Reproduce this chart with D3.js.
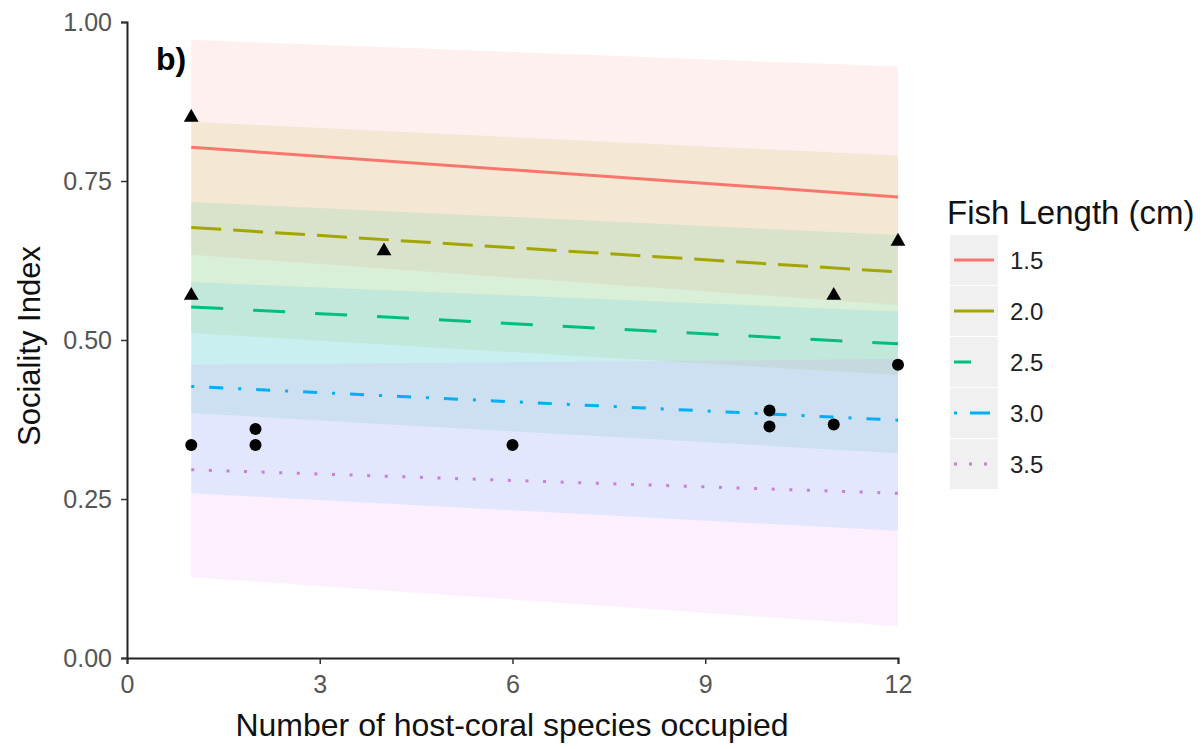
<!DOCTYPE html>
<html>
<head>
<meta charset="utf-8">
<script src="https://cdn.jsdelivr.net/npm/d3@7"></script>
<style>
  body { margin: 0; background: #fff; }
  text { font-family: "Liberation Sans", Arial, sans-serif; }
</style>
</head>
<body>
<svg id="chart" width="1202" height="749"></svg>
<script>
// fish length groups, fitted line and 95% band at x = 1 and x = 12
const lengths = ['1.5', '2.0', '2.5', '3.0', '3.5'];
const fitX = [1, 12];
const fitY = {
    '1.5': [0.803, 0.725],
    '2.0': [0.677, 0.607],
    '2.5': [0.552, 0.494],
    '3.0': [0.427, 0.374],
    '3.5': [0.296, 0.259]
};
const lowY = {
    '1.5': [0.634, 0.555],
    '2.0': [0.511, 0.445],
    '2.5': [0.385, 0.322],
    '3.0': [0.259, 0.200],
    '3.5': [0.127, 0.050]
};
const highY = {
    '1.5': [0.972, 0.930],
    '2.0': [0.843, 0.790],
    '2.5': [0.717, 0.665],
    '3.0': [0.591, 0.545],
    '3.5': [0.461, 0.470]
};

// observed points
const triangles = [[1, 0.85], [1, 0.57], [4, 0.64], [11, 0.57], [12, 0.655]];
const circles = [[1, 0.335], [2, 0.36], [2, 0.335], [6, 0.335], [10, 0.389], [10, 0.364], [11, 0.367], [12, 0.461]];

const xTicks = [0, 3, 6, 9, 12];
const yTicks = [0, 0.25, 0.5, 0.75, 1];

const colors = { '1.5': '#F8766D', '2.0': '#A3A500', '2.5': '#00BF7D', '3.0': '#00B0F6', '3.5': '#C97FD8' };
const fills = { '1.5': '#F8766D', '2.0': '#A3A500', '2.5': '#00BF7D', '3.0': '#00B0F6', '3.5': '#E76BF3' };
const dashes = { '1.5': null, '2.0': '30,12', '2.5': '32,30', '3.0': '3,15,14,15', '3.5': '3,14.6' };
const keyDashes = { '1.5': null, '2.0': null, '2.5': '17,40', '3.0': '3,13,20,40', '3.5': '3,12' };

const svg = d3.select('#chart');

const x = d3.scaleLinear().domain([0, 12]).range([127, 898]);
const y = d3.scaleLinear().domain([0, 1]).range([658, 22]);

// ribbons
const area = d3.area()
    .x((d) => x(d[0]))
    .y0((d) => y(d[1]))
    .y1((d) => y(d[2]));

const ribbons = svg.append('g');
lengths.forEach((len) => {
    const pts = fitX.map((v, i) => [v, lowY[len][i], highY[len][i]]);
    ribbons.append('path')
        .attr('d', area(pts))
        .attr('fill', fills[len])
        .attr('fill-opacity', 0.11);
});

// fitted lines
const line = d3.line().x((d) => x(d[0])).y((d) => y(d[1]));
const lines = svg.append('g');
lengths.forEach((len) => {
    const pts = fitX.map((v, i) => [v, fitY[len][i]]);
    lines.append('path')
        .attr('d', line(pts))
        .attr('fill', 'none')
        .attr('stroke', colors[len])
        .attr('stroke-width', 3)
        .attr('stroke-dasharray', dashes[len]);
});

// points
svg.append('g').selectAll('circle').data(circles).enter().append('circle')
    .attr('cx', (d) => x(d[0]))
    .attr('cy', (d) => y(d[1]))
    .attr('r', 6)
    .attr('fill', '#000');

const tri = d3.symbol().type(d3.symbolTriangle).size(95);
svg.append('g').selectAll('path').data(triangles).enter().append('path')
    .attr('d', tri)
    .attr('transform', (d) => `translate(${x(d[0])},${y(d[1])})`)
    .attr('fill', '#000');

// axes
const xAxis = svg.append('g')
    .attr('transform', 'translate(0,658)')
    .call(d3.axisBottom(x).tickValues(xTicks).tickSize(6).tickPadding(11).tickFormat(d3.format('d')));
const yAxis = svg.append('g')
    .attr('transform', 'translate(127,0)')
    .call(d3.axisLeft(y).tickValues(yTicks).tickSize(6).tickPadding(9).tickFormat(d3.format('.2f')));

[xAxis, yAxis].forEach((ax) => {
    ax.select('.domain').attr('stroke', '#222').attr('stroke-width', 2);
    ax.selectAll('.tick line').attr('stroke', '#333').attr('stroke-width', 1.5);
    ax.selectAll('.tick text')
        .attr('fill', '#555')
        .style('font-size', '25px')
        .style('font-family', '"Liberation Sans", Arial, sans-serif');
});

// titles
svg.append('text')
    .attr('x', 512).attr('y', 736)
    .attr('text-anchor', 'middle')
    .attr('fill', '#111')
    .style('font-size', '32px')
    .text('Number of host-coral species occupied');

svg.append('text')
    .attr('transform', 'translate(40,346) rotate(-90)')
    .attr('text-anchor', 'middle')
    .attr('fill', '#111')
    .style('font-size', '31px')
    .text('Sociality Index');

svg.append('text')
    .attr('x', 156).attr('y', 70)
    .attr('fill', '#000')
    .style('font-size', '32px')
    .style('font-weight', 'bold')
    .text('b)');

// legend
const legend = svg.append('g').attr('transform', 'translate(947,0)');
legend.append('text')
    .attr('x', 0).attr('y', 224)
    .attr('fill', '#111')
    .style('font-size', '33px')
    .text('Fish Length (cm)');

lengths.forEach((len, i) => {
    const top = 235 + i * 51;
    const key = legend.append('g').attr('transform', `translate(3,${top})`);
    key.append('rect')
        .attr('width', 48).attr('height', 50)
        .attr('fill', '#f0f0f0');
    key.append('line')
        .attr('x1', 4).attr('x2', 44)
        .attr('y1', 25).attr('y2', 25)
        .attr('stroke', colors[len])
        .attr('stroke-width', 3)
        .attr('stroke-dasharray', keyDashes[len]);
    legend.append('text')
        .attr('x', 63).attr('y', top + 34)
        .attr('fill', '#222')
        .style('font-size', '24px')
        .text(len);
});
</script>
</body>
</html>
